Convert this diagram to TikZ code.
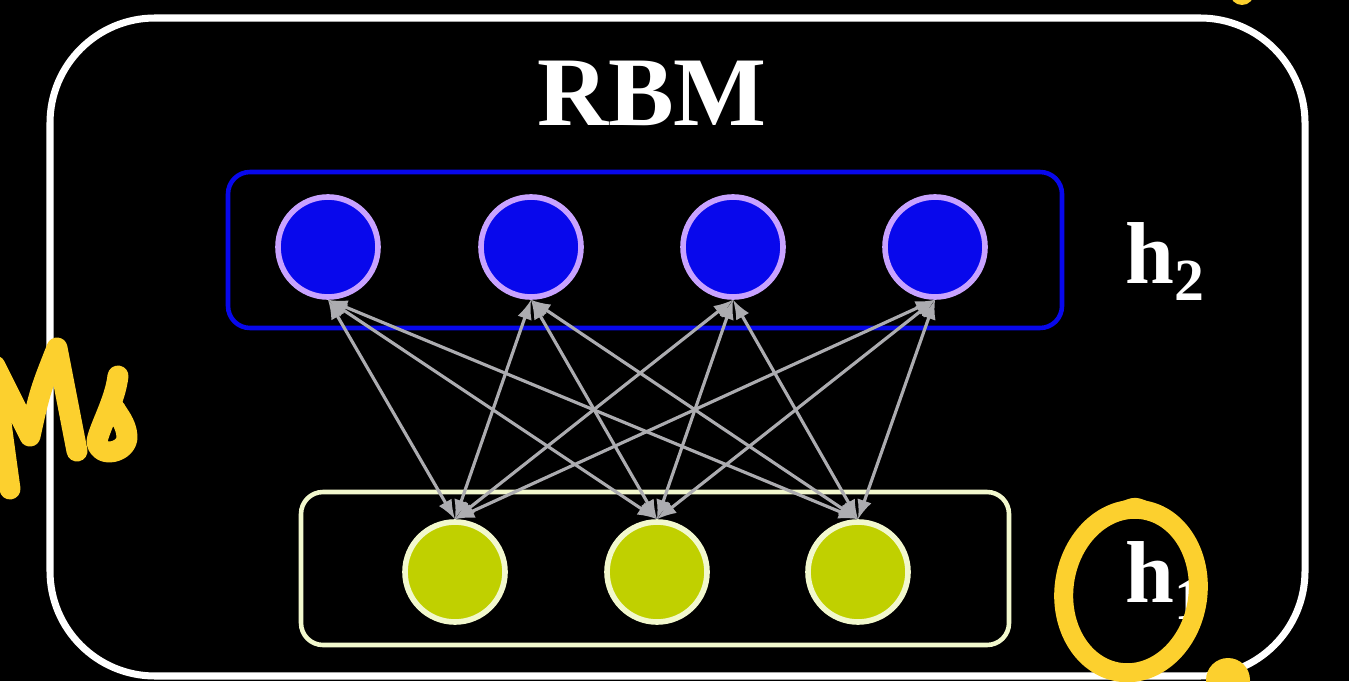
\documentclass[tikz,border=0pt]{standalone}
\usepackage{fontspec}
\setmainfont{Liberation Serif}
\usetikzlibrary{positioning}

\definecolor{unitblue}{RGB}{8,8,236}
\definecolor{unitring}{RGB}{200,162,255}
\definecolor{unitgreen}{RGB}{192,208,0}
\definecolor{unitcream}{RGB}{242,248,205}
\definecolor{wiregray}{RGB}{172,172,176}
\definecolor{penyellow}{RGB}{252,208,46}

\begin{document}

\begin{tikzpicture}[> = latex,
	hidden/.style = {circle, fill = unitblue, draw = unitring, line width = 1.6pt, minimum size = 1cm, inner sep = 0pt},
	visible/.style = {circle, fill = unitgreen, draw = unitcream, line width = 1.6pt, minimum size = 1cm, inner sep = 0pt},
	layer/.style = {rectangle, rounded corners = 0.22cm, line width = 1.3pt, inner sep = 0pt},
	tag/.style = {white, inner sep = 0pt, font = \bfseries\fontsize{25}{30}\selectfont},
	scribble/.style = {penyellow, line cap = round, line join = round}
]

	% Black page

	\fill [black] (0, 0) rectangle (13.49, 6.81);
	\useasboundingbox (0, 0) rectangle (13.49, 6.81);

	% Outer frame and title

	\draw [white, line width = 2pt, rounded corners = 1.05cm] (0.50, 0.05) rectangle (13.05, 6.63);
	\node (title) [tag, font = \bfseries\fontsize{28}{32}\selectfont] at (6.52, 5.88) {RBM};

	% Layer boxes

	\node (top layer) [layer, draw = unitblue, minimum width = 8.34cm, minimum height = 1.56cm] at (6.45, 4.31) {};
	\node (bottom layer) [layer, draw = unitcream, minimum width = 7.08cm, minimum height = 1.53cm] at (6.55, 1.125) {};

	% Units of both layers

	\foreach \x [count = \i] in {3.28, 5.31, 7.33, 9.35}
		\node (h2-\i) [hidden] at (\x, 4.34) {};

	\foreach \x [count = \j] in {4.55, 6.57, 8.58}
		\node (h1-\j) [visible] at (\x, 1.09) {};

	% Every hidden unit wired to every visible unit

	\foreach \i in {1, 2, 3, 4}
	{
		\foreach \j in {1, 2, 3}
		{
			\draw [<->, wiregray, line width = 0.9pt] (h2-\i.south) -- (h1-\j.north);
		}
	}

	% Layer names

	\node (name2) [tag, anchor = base west] at (11.25, 3.98) {h\raisebox{-5pt}{\fontsize{17}{20}\selectfont 2}};
	\node (name1) [tag, anchor = base west] at (11.25, 0.79) {h\raisebox{-5pt}{\fontsize{17}{20}\selectfont 1}};

	% Pen marks on top

	\draw [scribble, line width = 0.21cm] (0.10, 1.92) .. controls (0.02, 2.50) and (-0.05, 3.00) .. (-0.05, 3.15)
		-- (0.30, 2.45) .. controls (0.40, 2.90) .. (0.57, 3.33) -- (0.77, 2.30);
	\draw [scribble, line width = 0.21cm] (1.18, 3.05) .. controls (1.15, 2.80) and (1.00, 2.55) .. (0.97, 2.40)
		.. controls (0.98, 2.22) and (1.28, 2.28) .. (1.27, 2.45) .. controls (1.26, 2.58) and (1.18, 2.66) .. (1.15, 2.72);
	\draw [scribble, line width = 0.19cm, rotate around = {-8:(11.31, 0.90)}] (11.31, 0.90) ellipse (0.67 and 0.82);
	\draw [scribble, line width = 0.12cm] (11.20, 1.72) .. controls (11.35, 1.79) .. (11.52, 1.71);
	\fill [penyellow] (12.28, 0.01) circle (0.22);
	\fill [penyellow] (12.42, 6.88) circle (0.12);

\end{tikzpicture}

\end{document}
